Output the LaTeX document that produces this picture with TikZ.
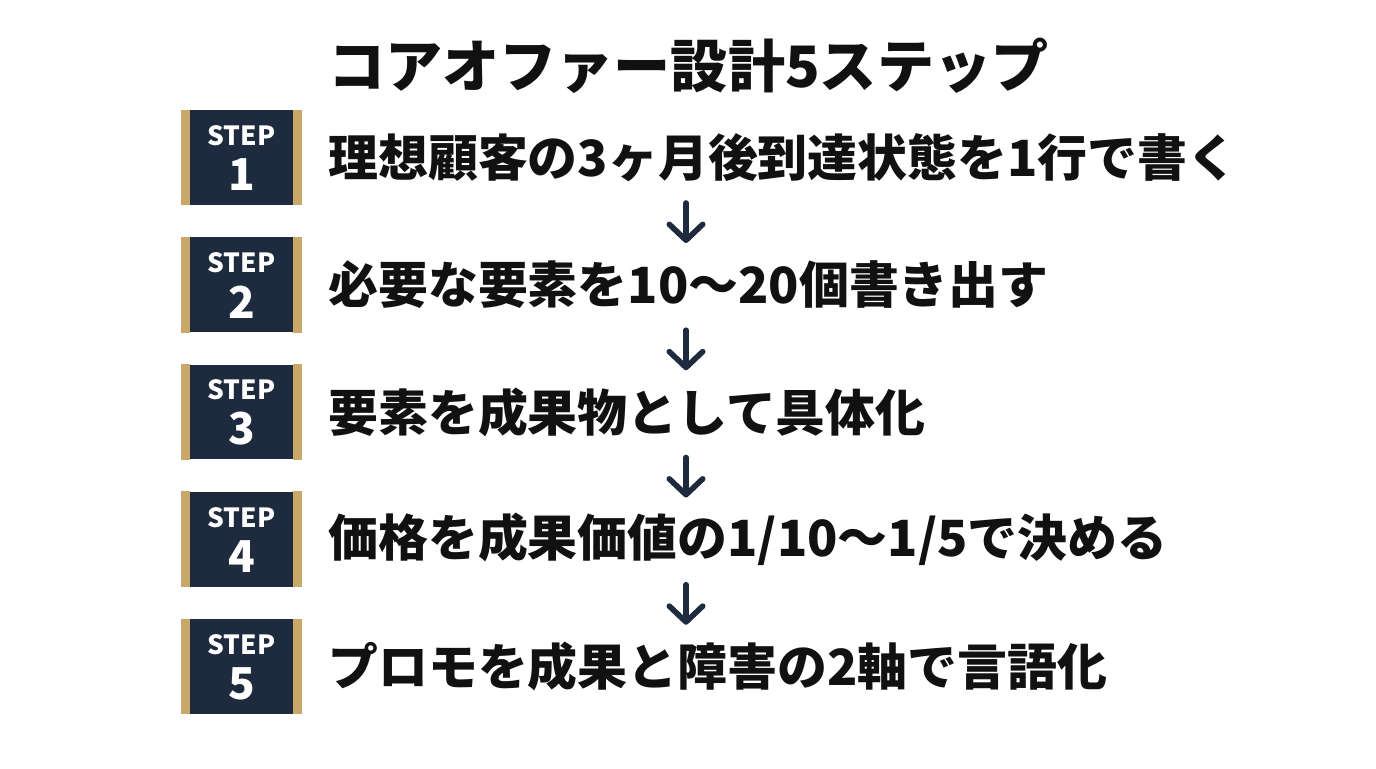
\documentclass[tikz,border=0pt]{standalone}
\usepackage{fontspec}
\setmainfont{Noto Sans CJK JP}[BoldFont={Noto Sans CJK JP Black}]
\usetikzlibrary{calc,arrows.meta}
\definecolor{navy}{HTML}{1E2A3D}
\definecolor{gold}{HTML}{C8A96A}
\definecolor{ink}{HTML}{111111}

\begin{document}
\begin{tikzpicture}[x=0.02cm,y=-0.02cm,
	stepbox/.style={fill=navy, minimum width=2.42cm, minimum height=1.9cm, inner sep=0pt},
	steptag/.style={text=white, inner sep=0pt, font=\bfseries\fontsize{15}{16}\selectfont},
	stepnum/.style={text=white, inner sep=0pt, font=\bfseries\fontsize{25}{26}\selectfont},
	steptext/.style={anchor=west, text=ink, inner sep=0pt, font=\bfseries\fontsize{28.4}{30}\selectfont},
	flow/.style={navy, line width=3.2pt, line cap=round, -{Straight Barb[length=9pt, width=19pt, round]}}]
		%%%%% START %%%%%
		
		\useasboundingbox[fill=white] (0,0) rectangle (1376,768);
		
		\node[anchor=west, inner sep=0pt, text=ink, font=\bfseries\fontsize{32.5}{33}\selectfont] (title) at (328,66) {コアオファー設計5ステップ};
		
		\foreach \i/\txt in {1/{理想顧客の3ヶ月後到達状態を1行で書く},
		                     2/{必要な要素を10〜20個書き出す},
		                     3/{要素を成果物として具体化},
		                     4/{価格を成果価値の1/10〜1/5で決める},
		                     5/{プロモを成果と障害の2軸で言語化}} {
			\pgfmathsetmacro{\yc}{157.5+127.25*(\i-1)}
			\node[stepbox] (step\i) at (241.5,\yc) {};
			\fill[gold] (step\i.north west) rectangle ($(step\i.south west)+(9,0)$);
			\fill[gold] (step\i.north east) rectangle ($(step\i.south east)+(-9,0)$);
			\node[steptag] (tag\i) at ($(step\i.center)+(0,-22)$) {STEP};
			\node[stepnum] (num\i) at ($(step\i.center)+(0,17)$) {\i};
			\node[steptext] (txt\i) at (328,\yc) {\txt};
		}
		
		\foreach \i in {1,...,4} {
			\pgfmathsetmacro{\ya}{203+127.25*(\i-1)}
			\coordinate (a\i) at (686,\ya);
			\coordinate (b\i) at (686,\ya+40);
			\draw[flow] (a\i) -- (b\i);
		}
		
		%%%%% END %%%%%
\end{tikzpicture}
\end{document}
